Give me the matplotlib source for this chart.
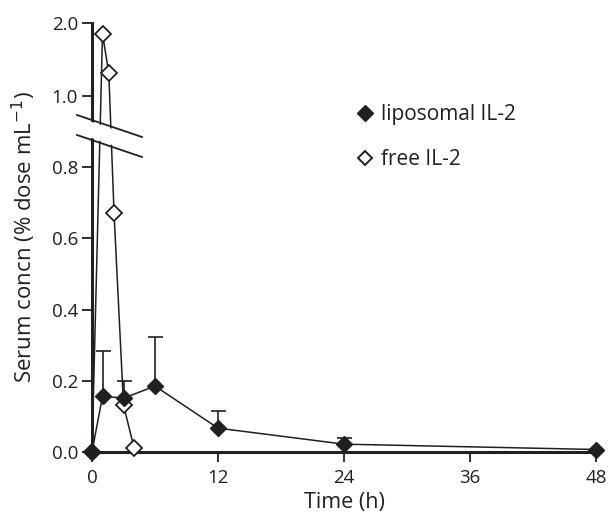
import numpy as np
import matplotlib
matplotlib.use('Agg')
import matplotlib.pyplot as plt
from matplotlib.patches import Polygon
from matplotlib.lines import Line2D

# data
lipo_t = [0, 1, 3, 6, 12, 24, 48]
lipo_c = [0.0, 0.157, 0.151, 0.185, 0.067, 0.022, 0.007]
lipo_err = [0.0, 0.126, 0.047, 0.138, 0.047, 0.016, 0.0]

free_t = [0, 1.0, 1.6, 2.1, 3.0, 4.0]
free_c = [0.0, 1.85, 1.31, 0.67, 0.132, 0.012]

x_ticks = [0, 12, 24, 36, 48]
y_ticks = [0.0, 0.2, 0.4, 0.6, 0.8, 1.0, 2.0]
y_labels = ['0.0', '0.2', '0.4', '0.6', '0.8', '1.0', '2.0']

INK = '#231f20'
K = 0.2045  # compression above 1.0

def fwd(y):
    y = np.asarray(y, dtype=float)
    return np.where(y <= 1.0, y, 1.0 + (y - 1.0) * K)

def inv(u):
    u = np.asarray(u, dtype=float)
    return np.where(u <= 1.0, u, 1.0 + (u - 1.0) / K)

plt.rcParams['font.family'] = ['Open Sans', 'DejaVu Sans']

W, H = 610, 512
fig = plt.figure(figsize=(6.1, 5.12), dpi=100, facecolor='white')
ax = fig.add_axes([92 / W, 1 - 452 / H, (596 - 92) / W, (452 - 23) / H])
ax.set_yscale('function', functions=(fwd, inv))
ax.set_xlim(0, 48)
ax.set_ylim(0, 2.0)

MS = 7.8

# free IL-2
ax.plot(free_t, free_c, color=INK, lw=1.1, marker='D', ms=MS,
        mfc='white', mec=INK, mew=1.3, clip_on=False, zorder=4)

# liposomal IL-2 with upper error bars
lower = np.zeros(len(lipo_err))
ax.errorbar(lipo_t, lipo_c, yerr=[lower, lipo_err], fmt='none',
            ecolor=INK, elinewidth=1.2, capsize=5.4, capthick=1.2, zorder=3, clip_on=False)
ax.plot(lipo_t, lipo_c, color=INK, lw=1.1, marker='D', ms=MS,
        mfc=INK, mec=INK, clip_on=False, zorder=5)

for s in ['top', 'right']:
    ax.spines[s].set_visible(False)
for s in ['left', 'bottom']:
    ax.spines[s].set_linewidth(2.2)
    ax.spines[s].set_color(INK)
    ax.spines[s].set_zorder(2)

ax.set_xticks(x_ticks)
ax.set_yticks(y_ticks)
ax.set_yticklabels(y_labels)
ax.tick_params(axis='both', direction='out', length=7, width=1.3, color=INK,
               labelsize=13.5, labelcolor=INK, pad=3)
ax.tick_params(axis='x', pad=5)
ax.minorticks_off()

ax.set_xlabel('Time (h)', fontsize=15.5, color=INK, labelpad=4)
ax.set_ylabel('Serum concn (% dose mL$^{-1}$)', fontsize=16, color=INK, labelpad=10)

# axis break marks (pixel positions)
def fp(x, y):
    return (x / W, 1 - y / H)

gap = Polygon([fp(77, 117), fp(142, 139), fp(142, 155), fp(77, 133)],
              closed=True, transform=fig.transFigure, facecolor='white',
              edgecolor='none', zorder=10)
fig.add_artist(gap)
for y0 in (115, 135):
    fig.add_artist(Line2D([77 / W, 142 / W], [1 - y0 / H, 1 - (y0 + 22) / H],
                          transform=fig.transFigure, color=INK, lw=1.3, zorder=11))

handles = [Line2D([], [], ls='none', marker='D', ms=MS, mfc=INK, mec=INK),
           Line2D([], [], ls='none', marker='D', ms=MS * 0.9, mfc='white', mec=INK, mew=1.4)]
leg = ax.legend(handles, ['liposomal IL-2', 'free IL-2'], loc='upper left',
                bbox_to_anchor=(357 / W, 1 - 104 / H), bbox_transform=fig.transFigure,
                frameon=False, fontsize=15, handlelength=0.8, handletextpad=0.35,
                labelspacing=1.15, borderpad=0, borderaxespad=0)
for t in leg.get_texts():
    t.set_color(INK)

fig.savefig('out.png', dpi=100, facecolor='white')
